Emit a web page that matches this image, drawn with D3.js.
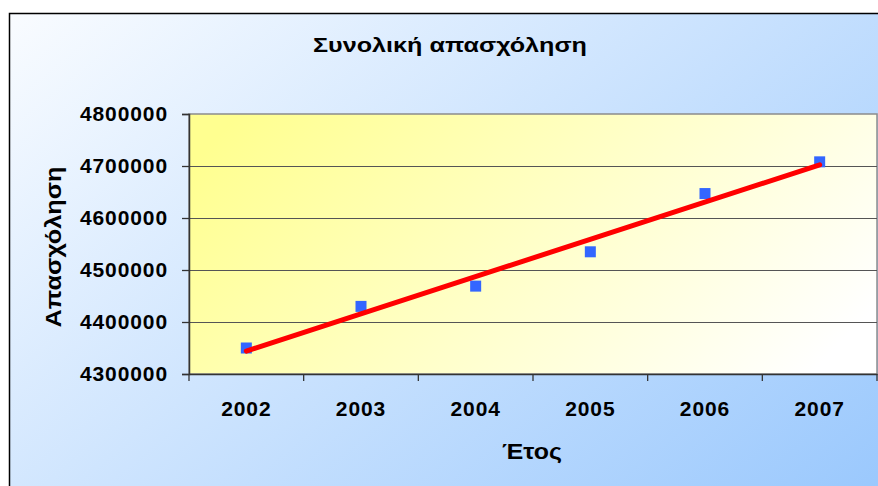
<!DOCTYPE html>
<html>
<head>
<meta charset="utf-8">
<script src="https://cdn.jsdelivr.net/npm/d3@7"></script>
<style>
  html, body { margin: 0; padding: 0; background: #ffffff; }
  svg { display: block; }
  text { font-family: "Liberation Sans", Arial, sans-serif; font-weight: 700; fill: #000; }
</style>
</head>
<body>
<svg id="chart" width="878" height="486"></svg>
<script>
// ---- data ----
const years = ["2002", "2003", "2004", "2005", "2006", "2007"];
const employment = [4350000, 4430000, 4469000, 4535000, 4647000, 4708000];
const yTicks = [4300000, 4400000, 4500000, 4600000, 4700000, 4800000];
const titleText = "Συνολική απασχόληση";
const xTitle = "Έτος";
const yTitle = "Απασχόληση";

// ---- layout ----
const W = 878, H = 486;
const plot = { left: 189, top: 114, right: 877, bottom: 374 };
const FONT = "'Liberation Sans', Arial, sans-serif";

const svg = d3.select("#chart");
const defs = svg.append("defs");

const bgGrad = defs.append("linearGradient").attr("id", "bgGrad")
  .attr("gradientUnits", "userSpaceOnUse")
  .attr("x1", 120).attr("y1", -150).attr("x2", 760).attr("y2", 640);
bgGrad.append("stop").attr("offset", "0%").attr("stop-color", "#ffffff");
bgGrad.append("stop").attr("offset", "100%").attr("stop-color", "#96c6fd");

const plotGrad = defs.append("linearGradient").attr("id", "plotGrad")
  .attr("gradientUnits", "userSpaceOnUse")
  .attr("x1", 290).attr("y1", 60).attr("x2", 720).attr("y2", 470);
plotGrad.append("stop").attr("offset", "0%").attr("stop-color", "#ffff90");
plotGrad.append("stop").attr("offset", "100%").attr("stop-color", "#ffffff");

// outer chart area
svg.append("rect")
  .attr("x", 9.5).attr("y", 13.5)
  .attr("width", W + 10).attr("height", H + 10)
  .attr("fill", "url(#bgGrad)")
  .attr("stroke", "#000").attr("stroke-width", 1.5);

// scales
const x = d3.scaleBand().domain(years).range([plot.left, plot.right]).padding(0);
const y = d3.scaleLinear().domain([4300000, 4800000]).range([plot.bottom, plot.top]);

// plot area
svg.append("rect")
  .attr("x", plot.left).attr("y", plot.top)
  .attr("width", plot.right - plot.left).attr("height", plot.bottom - plot.top)
  .attr("fill", "url(#plotGrad)")
  .attr("stroke", "#8c8c8c").attr("stroke-width", 1.5);

// gridlines
svg.append("g").selectAll("line").data(yTicks.slice(1, -1)).join("line")
  .attr("x1", plot.left).attr("x2", plot.right)
  .attr("y1", d => Math.round(y(d)) + 0.5).attr("y2", d => Math.round(y(d)) + 0.5)
  .attr("stroke", "#555").attr("stroke-width", 1.2);

// y axis
const yAxis = svg.append("g")
  .attr("transform", `translate(${plot.left},0)`)
  .call(d3.axisLeft(y).tickValues(yTicks).tickSize(7).tickPadding(14).tickFormat(d3.format("d")));
yAxis.attr("font-family", null).attr("font-size", null);
yAxis.select(".domain").attr("stroke", "#333").attr("stroke-width", 1.5);
yAxis.selectAll(".tick line").attr("stroke", "#333").attr("stroke-width", 1.3);
yAxis.selectAll("text")
  .style("font-size", "21px").style("font-family", FONT)
  .style("font-weight", "700").attr("fill", "#000").attr("letter-spacing", "0.9px");

// x axis
const xAxis = svg.append("g")
  .attr("transform", `translate(0,${plot.bottom})`)
  .call(d3.axisBottom(x).tickSize(0).tickPadding(27));
xAxis.attr("font-family", null).attr("font-size", null);
xAxis.select(".domain").attr("stroke", "#333").attr("stroke-width", 1.5);
xAxis.selectAll("text")
  .style("font-size", "21px").style("font-family", FONT)
  .style("font-weight", "700").attr("fill", "#000").attr("letter-spacing", "0.9px");
// category boundary ticks
const bounds = years.map(d => x(d)).concat([x(years[years.length - 1]) + x.bandwidth()]);
xAxis.selectAll(".bound").data(bounds).join("line").attr("class", "bound")
  .attr("x1", d => d).attr("x2", d => d).attr("y1", 0).attr("y2", 7)
  .attr("stroke", "#333").attr("stroke-width", 1.3);

// linear trend line (least squares over the series)
const idx = employment.map((_, i) => i);
const mx = d3.mean(idx), my = d3.mean(employment);
const slope = d3.sum(idx, i => (i - mx) * (employment[i] - my)) / d3.sum(idx, i => (i - mx) ** 2);
const intercept = my - slope * mx;
const cx = d => x(d) + x.bandwidth() / 2;

// markers
svg.append("g").selectAll("rect").data(years).join("rect")
  .attr("x", (d) => cx(d) - 5.5)
  .attr("y", (d, i) => y(employment[i]) - 5.5)
  .attr("width", 11).attr("height", 11)
  .attr("fill", "#3366ff");

svg.append("line")
  .attr("x1", cx(years[0])).attr("y1", y(intercept))
  .attr("x2", cx(years[years.length - 1])).attr("y2", y(intercept + slope * (years.length - 1)))
  .attr("stroke", "#ff0000").attr("stroke-width", 5).attr("stroke-linecap", "round");

// titles
svg.append("text").attr("x", 450).attr("y", 52).attr("text-anchor", "middle")
  .style("font-family", FONT).style("font-weight", "700")
  .style("font-size", "21px").attr("textLength", 274).attr("lengthAdjust", "spacingAndGlyphs")
  .text(titleText);
svg.append("text").attr("x", 532).attr("y", 459).attr("text-anchor", "middle")
  .style("font-family", FONT).style("font-weight", "700")
  .style("font-size", "22px").attr("textLength", 60).attr("lengthAdjust", "spacingAndGlyphs")
  .text(xTitle);
svg.append("text").attr("transform", "translate(61,247) rotate(-90)").attr("text-anchor", "middle")
  .style("font-family", FONT).style("font-weight", "700")
  .style("font-size", "22px").attr("textLength", 161).attr("lengthAdjust", "spacingAndGlyphs")
  .text(yTitle);
</script>
</body>
</html>
